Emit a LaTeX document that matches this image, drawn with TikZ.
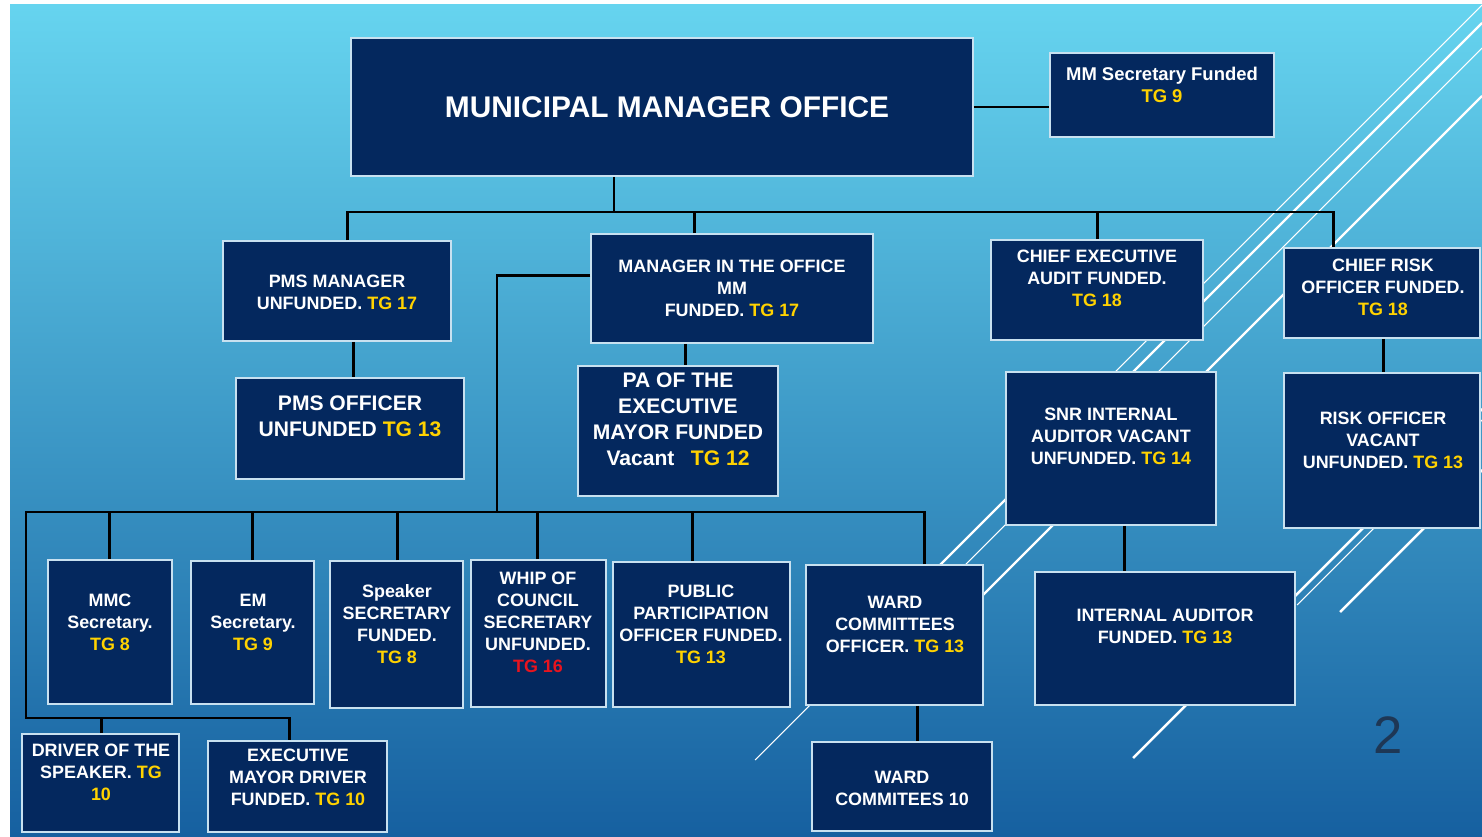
\documentclass[tikz,border=0pt]{standalone}
\usepackage{fontspec}
\setmainfont{Liberation Sans}
\usetikzlibrary{calc,fit}
\definecolor{navy}{RGB}{4,40,94}
\definecolor{rim}{RGB}{200,225,240}
\definecolor{tg}{RGB}{255,210,0}
\definecolor{tgred}{RGB}{232,20,30}
\definecolor{skytop}{RGB}{102,212,239}
\definecolor{skymid}{RGB}{60,160,208}
\definecolor{skybot}{RGB}{22,96,160}
\definecolor{pagenum}{RGB}{30,55,85}
\newcommand{\tg}[1]{\textcolor{tg}{#1}}
\tikzset{
  post/.style={draw=rim, fill=navy, line width=1pt, inner sep=0pt},
  postname/.style={text=white, align=center, inner sep=0pt,
    font=\bfseries\fontsize{10.2}{12.5}\selectfont},
  bigname/.style={postname, font=\bfseries\fontsize{12}{14.7}\selectfont},
  link/.style={line width=1.7pt, black},
  stripe/.style={white, line width=0.6pt},
  thickstripe/.style={white, line width=1.4pt}
}
\begin{document}
\begin{tikzpicture}[x=0.2mm, y=-0.2mm]
\useasboundingbox (0,0) rectangle (1482,837);
\fill[white] (0,0) rectangle (1482,837);
\shade[top color=skytop, middle color=skymid, bottom color=skybot] (10,5) rectangle (1482,837);

% slide stripes
\draw[stripe] (1100,387) -- (1482,5);
\draw[thickstripe] (905,600) -- (1482,23);
\draw[stripe] (925,605) -- (1482,48);
\draw[stripe] (755,760) -- (860,655);
\draw[thickstripe] (880,698) -- (1482,96);
\draw[thickstripe] (1133,758) -- (1482,409);
\draw[stripe] (1297,605) -- (1482,420);
\draw[thickstripe] (1340,612) -- (1482,470);

% boxes
\node[post, fit={(351,38) (973,176)}] (mmo) {};
\node[post, fit={(1050,53) (1274,137)}] (mmsec) {};
\node[post, fit={(223,241) (451,341)}] (pmsm) {};
\node[post, fit={(236,378) (464,479)}] (pmso) {};
\node[post, fit={(591,234) (873,343)}] (mio) {};
\node[post, fit={(578,366) (778,496)}] (pa) {};
\node[post, fit={(991,240) (1203,340)}] (cea) {};
\node[post, fit={(1284,248) (1480,338)}] (crisk) {};
\node[post, fit={(1006,372) (1216,525)}] (snr) {};
\node[post, fit={(1284,373) (1480,528)}] (riskoff) {};
\node[post, fit={(1035,572) (1295,705)}] (intaud) {};
\node[post, fit={(48,560) (172,704)}] (mmc) {};
\node[post, fit={(191,561) (314,704)}] (em) {};
\node[post, fit={(330,561) (463,708)}] (spk) {};
\node[post, fit={(471,560) (606,707)}] (whip) {};
\node[post, fit={(613,562) (790,707)}] (ppo) {};
\node[post, fit={(806,565) (983,705)}] (wco) {};
\node[post, fit={(812,742) (992,831)}] (wc10) {};
\node[post, fit={(22,734) (179,832)}] (drv) {};
\node[post, fit={(208,741) (387,832)}] (emd) {};

% texts
\node[postname, font=\bfseries\fontsize{17}{20}\selectfont] (mmo-t) at (667,107) {MUNICIPAL MANAGER OFFICE};
\node[postname, font=\bfseries\fontsize{10.5}{12.5}\selectfont] (mmsec-t) at (1162,85) {MM Secretary Funded\\\tg{TG 9}};
\node[postname] (pmsm-t) at (337,292) {PMS MANAGER\\UNFUNDED. \tg{TG 17}};
\node[bigname] (pmso-t) at (350,416) {PMS OFFICER\\UNFUNDED \tg{TG 13}};
\node[postname] (mio-t) at (732,288) {MANAGER IN THE OFFICE\\MM\\FUNDED. \tg{TG 17}};
\node[bigname] (pa-t) at (678,419) {PA OF THE\\EXECUTIVE\\MAYOR FUNDED\\Vacant\enspace\ \tg{TG 12}};
\node[postname] (cea-t) at (1097,278) {CHIEF EXECUTIVE\\AUDIT FUNDED.\\\tg{TG 18}};
\node[postname] (crisk-t) at (1383,287) {CHIEF RISK\\OFFICER FUNDED.\\\tg{TG 18}};
\node[postname] (snr-t) at (1111,436) {SNR INTERNAL\\AUDITOR VACANT\\UNFUNDED. \tg{TG 14}};
\node[postname] (riskoff-t) at (1383,440) {RISK OFFICER\\VACANT\\UNFUNDED. \tg{TG 13}};
\node[postname] (intaud-t) at (1165,626) {INTERNAL AUDITOR\\FUNDED. \tg{TG 13}};
\node[postname] (mmc-t) at (110,622) {MMC\\Secretary.\\\tg{TG 8}};
\node[postname] (em-t) at (253,622) {EM\\Secretary.\\\tg{TG 9}};
\node[postname] (spk-t) at (397,624) {Speaker\\SECRETARY\\FUNDED.\\\tg{TG 8}};
\node[postname] (whip-t) at (538,622) {WHIP OF\\COUNCIL\\SECRETARY\\UNFUNDED.\\\textcolor{tgred}{TG 16}};
\node[postname] (ppo-t) at (701,624) {PUBLIC\\PARTICIPATION\\OFFICER FUNDED.\\\tg{TG 13}};
\node[postname] (wco-t) at (895,624) {WARD\\COMMITTEES\\OFFICER. \tg{TG 13}};
\node[postname] (wc10-t) at (902,788) {WARD\\COMMITEES 10};
\node[postname] (drv-t) at (101,772) {DRIVER OF THE\\SPEAKER. \tg{TG}\\\tg{10}};
\node[postname] (emd-t) at (298,777) {EXECUTIVE\\MAYOR DRIVER\\FUNDED. \tg{TG 10}};
\node[text=pagenum, font=\fontsize{30}{30}\selectfont] (pageno) at (1388,735) {2};

% connectors
\coordinate (hub) at (614,212);
\coordinate (hub2) at (497,512);
\coordinate (hub3) at (26,718);
\draw[link] (mmo.east) -- (mmo.east -| mmsec.west);
\draw[link] (mmo.south -| hub) -- (hub);
\draw[link] ($(pmsm.north west)+(125,0)$) |- (hub) -| ($(crisk.north west)+(50,0)$);
\draw[link] ($(mio.north west)+(104,0)$) |- (hub);
\draw[link] ($(cea.north west)+(107,0)$) |- (hub);
\draw[link] ($(pmsm.south west)+(131,0)$) -- ($(pmso.north west)+(118,0)$);
\draw[link] ($(mio.south west)+(95,0)$) -- ($(pa.north west)+(108,0)$);
\draw[link] ($(mio.north west)+(0,42)$) -| (hub2);
\draw[link] ($(mmc.north west)+(62,0)$) |- (hub2);
\draw[link] ($(em.north west)+(62,0)$) |- (hub2);
\draw[link] ($(spk.north west)+(68,0)$) |- (hub2);
\draw[link] ($(whip.north west)+(67,0)$) |- (hub2);
\draw[link] ($(ppo.north west)+(80,0)$) |- (hub2);
\draw[link] ($(wco.north west)+(119,0)$) |- (hub2);
\draw[link] (hub2) -| (hub3) -| ($(emd.north west)+(82,0)$);
\draw[link] ($(drv.north west)+(80,0)$) |- (hub3);
\draw[link] ($(wco.south west)+(112,0)$) -- ($(wc10.north west)+(106,0)$);
\draw[link] ($(snr.south west)+(119,0)$) -- ($(intaud.north west)+(90,0)$);
\draw[link] ($(crisk.south west)+(100,0)$) -- ($(riskoff.north west)+(100,0)$);
\end{tikzpicture}
\end{document}
